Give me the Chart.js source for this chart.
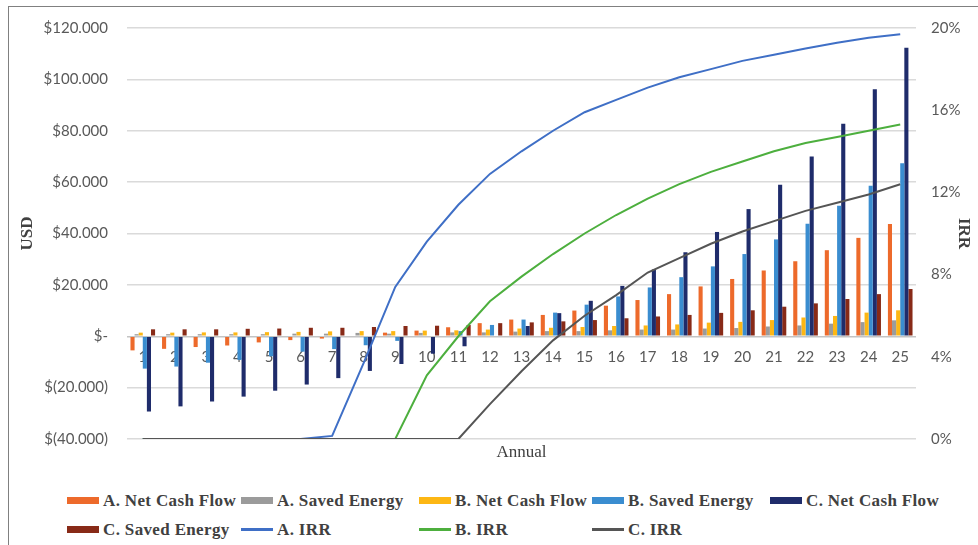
<!DOCTYPE html>
<html>
<head>
<meta charset="utf-8">
<script src="https://cdn.jsdelivr.net/npm/chart.js@4.4.1/dist/chart.umd.min.js"></script>
<style>
  html, body { margin: 0; padding: 0; background: #fff; overflow: hidden; }
  body { width: 978px; height: 545px; position: relative; }
  #frame { position: absolute; left: 8px; top: 6px; width: 1000px; height: 600px; border: 1.5px solid #808080; box-sizing: border-box; }
  #wrap { position: absolute; left: 0; top: 0; width: 978px; height: 470px; }
  #legend { position: absolute; left: 67px; top: 486px; display: grid; grid-template-columns: 174px 178px 173px 178px 178px; grid-auto-rows: 29px;
    font: bold 17px "Liberation Serif", "Times New Roman", serif; letter-spacing: 0.35px; color: #404040; }
  #legend .item { display: flex; align-items: center; white-space: nowrap; }
  #legend .sw { width: 32px; margin-right: 4px; flex: none; }
</style>
</head>
<body>
<div id="frame"></div>
<div id="wrap"><canvas id="irrChart"></canvas></div>
<div id="legend"></div>
<script>
const years = ['1', '2', '3', '4', '5', '6', '7', '8', '9', '10', '11', '12', '13', '14', '15', '16', '17', '18', '19', '20', '21', '22', '23', '24', '25']

// USD
const aNetCashFlow = [-5500, -4900, -4200, -3600, -2400, -1500, -900, 300, 1400, 2200, 3500, 5100, 6500, 8300, 10000, 11900, 14100, 16400, 19400, 22300, 25600, 29200, 33500, 38300, 43700]
const aSavedEnergy = [800, 800, 800, 800, 800, 1000, 1000, 1300, 1000, 1300, 1500, 1500, 1800, 2000, 2000, 2300, 2600, 2600, 3000, 3200, 3800, 4200, 4900, 5500, 6200]
const bNetCashFlow = [1400, 1400, 1500, 1500, 1600, 1700, 1900, 2000, 2000, 2200, 2300, 2600, 3000, 3300, 3600, 4000, 4200, 4600, 5300, 5600, 6300, 7300, 7900, 9200, 10100]
const bSavedEnergy = [-12600, -11800, -10300, -9200, -7800, -6000, -5000, -3500, -1800, 0, 2000, 4400, 6500, 9200, 12300, 15500, 19000, 23000, 27200, 32000, 37700, 43800, 50800, 58600, 67300]
const cNetCashFlow = [-29300, -27300, -25400, -23500, -21200, -18800, -16300, -13500, -10800, -6800, -3900, 300, 4000, 9000, 13800, 19600, 26000, 32700, 40600, 49500, 59000, 70000, 82700, 96200, 112300]
const cSavedEnergy = [2700, 2700, 2700, 2900, 3000, 3300, 3300, 3600, 4000, 4100, 4400, 5100, 5400, 5800, 6300, 7000, 7700, 8300, 9100, 10100, 11500, 12800, 14500, 16400, 18400]

// IRR (fraction)
const aIRR = [0, 0, 0, 0, 0, 0, 0.0015, 0.037, 0.074, 0.096, 0.114, 0.129, 0.140, 0.150, 0.159, 0.165, 0.171, 0.176, 0.180, 0.184, 0.187, 0.190, 0.1928, 0.1952, 0.197]
const bIRR = [0, 0, 0, 0, 0, 0, 0, 0, 0, 0.031, 0.050, 0.067, 0.079, 0.090, 0.100, 0.109, 0.117, 0.124, 0.130, 0.135, 0.140, 0.144, 0.147, 0.150, 0.153]
const cIRR = [0, 0, 0, 0, 0, 0, 0, 0, 0, 0, 0, 0.017, 0.033, 0.048, 0.060, 0.070, 0.081, 0.088, 0.095, 0.101, 0.106, 0.111, 0.115, 0.119, 0.124]

const usdTicks = [-40000, -20000, 0, 20000, 40000, 60000, 80000, 100000, 120000]
const irrTicks = [0, 0.04, 0.08, 0.12, 0.16, 0.2]

const tickFont = { family: 'Lato', size: 15 }
const titleFont = { family: 'Liberation Serif', size: 17, weight: 'bold' }

const dots = (n) => String(n).replace(/\B(?=(\d{3})+(?!\d))/g, '.')
const usd = (v) => (v === 0 ? '$-' : v < 0 ? '$(' + dots(-v) + ')' : '$' + dots(v))

const bar = (label, data, color, order) => ({
  type: 'bar', label, data, backgroundColor: color, borderWidth: 0,
  yAxisID: 'y', order, categoryPercentage: 0.78, barPercentage: 1
})
const line = (label, data, color, order) => ({
  type: 'line', label, data, borderColor: color, backgroundColor: color, borderWidth: 2,
  pointRadius: 0, tension: 0, yAxisID: 'y1', order
})

// legend laid out in a grid like the original
const htmlLegend = {
  id: 'htmlLegend',
  afterUpdate (chart) {
    const box = document.getElementById('legend')
    box.innerHTML = ''
    chart.data.datasets.forEach((ds) => {
      const item = document.createElement('div')
      item.className = 'item'
      const sw = document.createElement('span')
      sw.className = 'sw'
      if (ds.type === 'line') {
        sw.style.height = '3px'
        sw.style.background = ds.borderColor
      } else {
        sw.style.height = '7px'
        sw.style.background = ds.backgroundColor
      }
      item.appendChild(sw)
      item.appendChild(document.createTextNode(ds.label))
      box.appendChild(item)
    })
  }
}

const ctx = document.getElementById('irrChart').getContext('2d')

new Chart(ctx, {
  data: {
    labels: years,
    datasets: [
      bar('A. Net Cash Flow', aNetCashFlow, '#ED6A2B', 10),
      bar('A. Saved Energy', aSavedEnergy, '#9B9B9B', 10),
      bar('B. Net Cash Flow', bNetCashFlow, '#FDB714', 10),
      bar('B. Saved Energy', bSavedEnergy, '#3A8DD0', 10),
      bar('C. Net Cash Flow', cNetCashFlow, '#1F2C6B', 10),
      bar('C. Saved Energy', cSavedEnergy, '#882A17', 10),
      line('A. IRR', aIRR, '#3F6FC6', 3),
      line('B. IRR', bIRR, '#4DAF3E', 2),
      line('C. IRR', cIRR, '#555555', 1)
    ]
  },
  options: {
    responsive: true,
    maintainAspectRatio: false,
    animation: false,
    layout: { padding: { left: 13, right: 0, top: 24, bottom: 3 } },
    plugins: {
      legend: { display: false },
      tooltip: { enabled: false }
    },
    scales: {
      x: {
        type: 'category',
        position: { y: 0 },
        offset: true,
        grid: { display: false },
        border: { display: false },
        ticks: { color: '#595959', font: tickFont, padding: 4, maxRotation: 0, autoSkip: false }
      },
      x2: {
        type: 'category',
        labels: years,
        position: 'bottom',
        offset: true,
        grid: { display: false },
        border: { display: false },
        ticks: { display: false },
        title: { display: true, text: 'Annual', color: '#404040', font: { family: 'Liberation Serif', size: 17 } },
        afterFit: (scale) => { scale.height = 28 }
      },
      y: {
        position: 'left',
        min: -40000,
        max: 120000,
        afterBuildTicks: (scale) => { scale.ticks = usdTicks.map((v) => ({ value: v })) },
        grid: {
          color: (c) => (c.tick && c.tick.value === 0 ? '#c4c4c4' : '#dadada'),
          lineWidth: 1.5,
          drawTicks: false
        },
        border: { display: false },
        ticks: { color: '#595959', font: tickFont, padding: 19, callback: (v) => usd(v) },
        title: { display: true, text: 'USD', color: '#404040', font: titleFont },
        afterFit: (scale) => { scale.width = 114 }
      },
      y1: {
        position: 'right',
        min: 0,
        max: 0.2,
        afterBuildTicks: (scale) => { scale.ticks = irrTicks.map((v) => ({ value: v })) },
        grid: { display: false, drawTicks: false },
        border: { display: false },
        ticks: { color: '#595959', font: tickFont, padding: 15, callback: (v) => Math.round(v * 100) + '%' },
        title: { display: true, text: 'IRR', color: '#404040', font: titleFont },
        afterFit: (scale) => { scale.width = 62 }
      }
    }
  },
  plugins: [htmlLegend]
})
</script>
</body>
</html>
